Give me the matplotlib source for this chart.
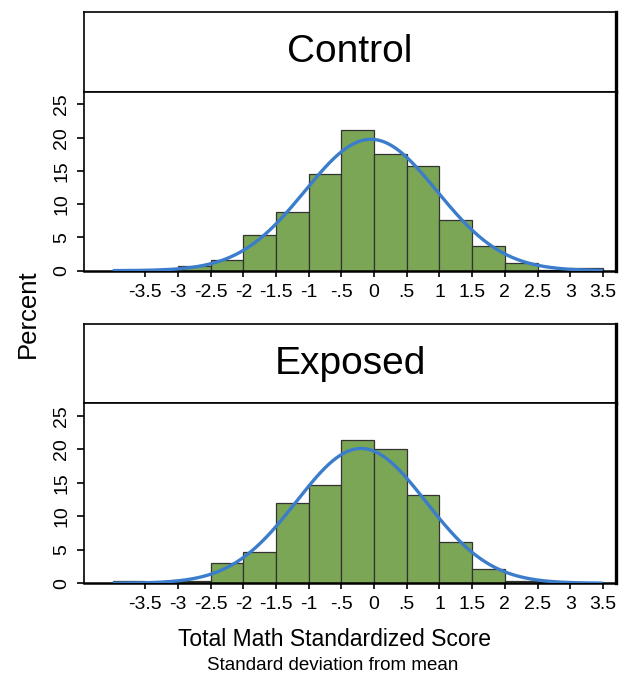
import matplotlib
matplotlib.use("Agg")
import matplotlib.pyplot as plt
import numpy as np

plt.rcParams["font.family"] = ["Liberation Sans", "DejaVu Sans"]

# histogram bins (width 0.5) starting at -4
bin_edges = [-4.0, -3.5, -3.0, -2.5, -2.0, -1.5, -1.0, -0.5, 0.0, 0.5, 1.0, 1.5, 2.0, 2.5, 3.0, 3.5]

# percent per bin
control_pct = [0.1, 0.1, 0.75, 1.6, 5.3, 8.8, 14.5, 21.2, 17.6, 15.8, 7.6, 3.75, 1.1, 0.15, 0.35]
exposed_pct = [0.3, 0.25, 0.3, 3.0, 4.65, 11.95, 14.65, 21.4, 20.1, 13.15, 6.15, 2.2, 0.35, 0.15, 0.1]

# fitted normal overlay (mean, sd) and its x range
control_norm = (-0.05, 1.01)
exposed_norm = (-0.2, 0.99)
curve_range = (-4.0, 3.5)

x_ticks = [-3.5, -3, -2.5, -2, -1.5, -1, -0.5, 0, 0.5, 1, 1.5, 2, 2.5, 3, 3.5]
x_tick_labels = ["-3.5", "-3", "-2.5", "-2", "-1.5", "-1", "-.5", "0", ".5", "1", "1.5", "2", "2.5", "3", "3.5"]
y_ticks = [0, 5, 10, 15, 20, 25]

GREEN = "#7ba655"
BLUE = "#3b7dcb"
EDGE = "#333333"


def draw_panel(ax, strip, title, pct, norm):
    edges = np.array(bin_edges)
    widths = np.diff(edges)
    ax.bar(edges[:-1], pct, width=widths, align="edge", color=GREEN,
           edgecolor=EDGE, linewidth=0.9, zorder=2)

    mu, sd = norm
    xs = np.linspace(curve_range[0], curve_range[1], 400)
    ys = 100 * 0.5 * np.exp(-0.5 * ((xs - mu) / sd) ** 2) / (sd * np.sqrt(2 * np.pi))
    ax.plot(xs, ys, color=BLUE, linewidth=2.4, zorder=3, solid_capstyle="butt")

    ax.set_xlim(-4.44, 3.70)
    ax.set_ylim(0, 26.9)
    ax.set_xticks(x_ticks)
    ax.set_xticklabels(x_tick_labels)
    ax.set_yticks(y_ticks)
    ax.set_yticklabels([str(v) for v in y_ticks], rotation=90, va="center")
    ax.tick_params(axis="x", length=4.5, width=1.2, pad=5, labelsize=14)
    ax.tick_params(axis="y", length=5, width=1.2, pad=5, labelsize=14)
    for side in ["left", "top"]:
        ax.spines[side].set_linewidth(1.2)
    ax.spines["bottom"].set_linewidth(1.8)
    ax.spines["right"].set_linewidth(2.4)

    strip.set_xticks([])
    strip.set_yticks([])
    for side in ["left", "top", "bottom"]:
        strip.spines[side].set_linewidth(1.2)
    strip.spines["right"].set_linewidth(2.4)
    strip.text(0.5, 0.5, title, ha="center", va="center", fontsize=28,
               transform=strip.transAxes)


fig = plt.figure(figsize=(6.3, 6.75), dpi=100)

left, width = 0.1333, 0.8444
strip1 = fig.add_axes([left, 0.8641, width, 0.1186])
ax1 = fig.add_axes([left, 0.5990, width, 0.2651])
strip2 = fig.add_axes([left, 0.4025, width, 0.1175])
ax2 = fig.add_axes([left, 0.1359, width, 0.2666])

draw_panel(ax1, strip1, "Control", control_pct, control_norm)
draw_panel(ax2, strip2, "Exposed", exposed_pct, exposed_norm)

fig.text(28 / 630, 1 - 314 / 675, "Percent", rotation=90, ha="center", va="center", fontsize=18.5)
fig.text(334 / 630, 1 - 640 / 675, "Total Math Standardized Score", ha="center", va="center", fontsize=16.5)
fig.text(333 / 630, 1 - 665 / 675, "Standard deviation from mean", ha="center", va="center", fontsize=13.5)

fig.savefig("out.png", dpi=100)
plt.close(fig)
